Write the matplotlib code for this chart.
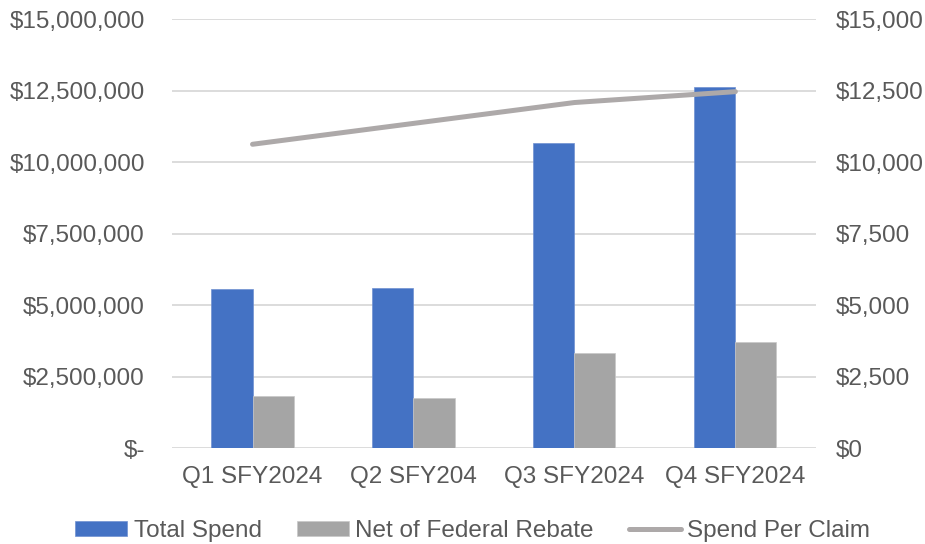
import numpy as np
import matplotlib.pyplot as plt
from matplotlib.ticker import FuncFormatter

plt.rcParams['font.family'] = ['Liberation Sans', 'DejaVu Sans']

quarters = ['Q1 SFY2024', 'Q2 SFY204', 'Q3 SFY2024', 'Q4 SFY2024']
total_spend = [5560000, 5590000, 10690000, 12640000]
net_rebate = [1840000, 1750000, 3320000, 3730000]
spend_per_claim = [10630, 11360, 12090, 12470]

left_ticks = [0, 2500000, 5000000, 7500000, 10000000, 12500000, 15000000]
right_ticks = [0, 2500, 5000, 7500, 10000, 12500, 15000]

txt = '#595959'
blue = '#4472C4'
gray = '#A5A5A5'
line_col = '#ADA9A9'
fs = 17.5

fig = plt.figure(figsize=(9.25, 5.44), dpi=100)
ax = fig.add_axes([0.186, 0.176, 0.696, 0.7885])
ax2 = ax.twinx()

x = np.arange(len(quarters))
w = 0.255
ax.bar(x - w / 2, total_spend, w, color=blue, edgecolor='#6F90D0', linewidth=0.5,
       label='Total Spend', zorder=3)
ax.bar(x + w / 2, net_rebate, w, color=gray, edgecolor='#C8C8C8', linewidth=0.5,
       label='Net of Federal Rebate', zorder=3)
ax2.plot(x, spend_per_claim, color=line_col, lw=3.6, solid_capstyle='round',
         label='Spend Per Claim')

ax.set_xlim(-0.5, 3.5)
ax.set_ylim(0, 15000000)
ax2.set_ylim(0, 15000)
ax.set_yticks(left_ticks)
ax2.set_yticks(right_ticks)
ax.yaxis.set_major_formatter(FuncFormatter(lambda v, p: '$-' if v == 0 else '${:,.0f}'.format(v)))
ax2.yaxis.set_major_formatter(FuncFormatter(lambda v, p: '${:,.0f}'.format(v)))
ax.set_xticks(x)
ax.set_xticklabels(quarters)

ax.grid(axis='y', color='#D9D9D9', lw=1.3, zorder=0)
ax.set_axisbelow(True)
for a in (ax, ax2):
    for s in a.spines.values():
        s.set_visible(False)
    a.tick_params(length=0, labelsize=fs, colors=txt)
ax.tick_params(axis='y', pad=19.5)
ax.tick_params(axis='x', pad=12.5)
ax2.tick_params(axis='y', pad=14.5)

h1, l1 = ax.get_legend_handles_labels()
h2, l2 = ax2.get_legend_handles_labels()
fig.legend(h1 + h2, l1 + l2, loc='center', bbox_to_anchor=(0.511, 0.024), ncol=3,
           frameon=False, fontsize=fs, labelcolor=txt, handlelength=2.15, handleheight=0.6,
           handletextpad=0.25, columnspacing=1.45, borderpad=0)

fig.savefig('out.png', dpi=100)
